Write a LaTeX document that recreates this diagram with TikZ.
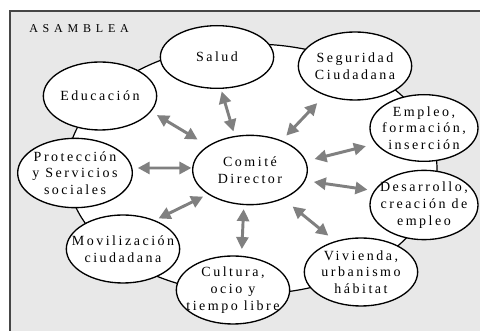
\documentclass[tikz,border=0pt]{standalone}
\usepackage{fontspec}
\newfontfamily\espaciada[LetterSpace=18]{Liberation Serif}
\newfontfamily\muyespaciada[LetterSpace=40]{Liberation Serif}
\usetikzlibrary{shapes.geometric}
\usetikzlibrary{arrows.meta}
\definecolor{fondo}{RGB}{232,232,232}
\definecolor{marco}{RGB}{70,70,70}
\definecolor{flechagris}{RGB}{128,128,128}
\tikzset{
  burbuja/.style={ellipse, draw, fill=white, line width=1pt, inner sep=0pt,
    minimum width=85pt, minimum height=51pt},
  rotulo/.style={align=center, inner sep=0pt,
    font=\espaciada\fontsize{10.5}{12.5}\selectfont},
  flecha/.style={{Triangle[length=9pt,width=9pt]}-{Triangle[length=9pt,width=9pt]},
    draw=flechagris, line width=2.2pt}
}

\begin{document}
\begin{tikzpicture}[x=0.75pt,y=-0.75pt]
\useasboundingbox (0,0) rectangle (480,331);
\clip (0,0) rectangle (480,331);
\fill[fondo] (10,11) rectangle (490,340);
\draw[marco, line width=1.5pt] (10,340) -- (10,11) -- (490,11);
\node[anchor=base west, inner sep=0pt, font=\muyespaciada\fontsize{9}{11}\selectfont] (asam) at (29,33) {ASAMBLEA};
\draw[fill=white, line width=0.9pt] (252,169) ellipse [x radius=138.75pt, y radius=93.75pt];

\node[burbuja, minimum width=86pt, minimum height=52pt, label={[rotulo]center:{Comité\\Director}}] (com) at (250,170) {};
\node[burbuja, minimum height=47pt, label={[rotulo]center:Salud}] (sal) at (217,57) {};
\node[burbuja, label={[rotulo]center:{Seguridad\\Ciudadana}}] (seg) at (355,66) {};
\node[burbuja, minimum width=81pt, minimum height=50pt, label={[rotulo]center:{Empleo,\\formación,\\inserción}}] (emp) at (424,128) {};
\node[burbuja, minimum width=81pt, minimum height=52pt, label={[rotulo]center:{Desarrollo,\\creación de\\empleo}}] (des) at (424,205) {};
\node[burbuja, label={[rotulo]center:{Vivienda,\\urbanismo\\hábitat}}] (viv) at (361,272) {};
\node[burbuja, label={[rotulo]center:{Cultura,\\ocio y\\tiempo libre}}] (cul) at (233,290) {};
\node[burbuja, label={[rotulo]center:{Movilización\\ciudadana}}] (mov) at (123,249) {};
\node[burbuja, minimum width=86pt, minimum height=52pt, label={[rotulo]center:{Protección\\y Servicios\\sociales}}] (pro) at (75,173) {};
\node[burbuja, label={[rotulo]center:Educación}] (edu) at (100,96) {};

\draw[flecha, shorten <=5pt, shorten >=9pt] (edu.343) -- (com.150);
\draw[flecha, shorten <=2pt, shorten >=3.5pt] (sal.277) -- (com.114);
\draw[flecha, shorten <=8pt, shorten >=5pt] (seg.224) -- (com.43);
\draw[flecha, shorten <=7.5pt, shorten >=6.5pt] (emp.198) -- (com.9);
\draw[flecha, shorten <=6.5pt, shorten >=5pt] (com.349) -- (des.164);
\draw[flecha, shorten <=9pt, shorten >=6.5pt] (com.319) -- (viv.130);
\draw[flecha, shorten <=3pt, shorten >=5pt] (com.260) -- (cul.76);
\draw[flecha, shorten <=3pt, shorten >=4pt] (mov.42) -- (com.210);
\draw[flecha, shorten <=4pt, shorten >=0.5pt] (pro.5) -- (com.178);
\end{tikzpicture}
\end{document}
